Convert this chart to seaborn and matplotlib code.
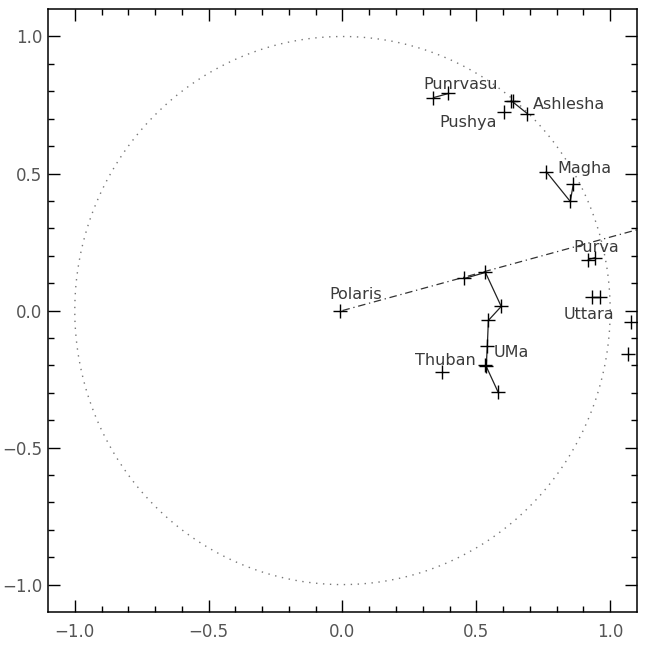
import numpy as np
import pandas as pd
import matplotlib
matplotlib.use("Agg")
import matplotlib.pyplot as plt
import seaborn as sns

# star positions (projected)
polaris_x = [-0.01]
polaris_y = [0.0]
uma_x = [0.455, 0.534, 0.593, 0.545, 0.541, 0.537, 0.582]
uma_y = [0.117, 0.139, 0.015, -0.036, -0.131, -0.204, -0.299]
uma_extra_x = [0.533]
uma_extra_y = [-0.200]
thuban_x = [0.373]
thuban_y = [-0.226]
punarvasu_x = [0.340, 0.396]
punarvasu_y = [0.777, 0.792]
pushya_x = [0.604]
pushya_y = [0.723]
ashlesha_x = [0.630, 0.638, 0.690]
ashlesha_y = [0.766, 0.763, 0.719]
magha_x = [0.761, 0.851, 0.862]
magha_y = [0.507, 0.398, 0.460]
purva_x = [0.918, 0.944]
purva_y = [0.186, 0.193]
uttara_x = [0.933, 0.963]
uttara_y = [0.051, 0.051]
edge_x = [1.078, 1.067]
edge_y = [-0.040, -0.157]

# pole direction line
pole_angle = 15.0   # degrees
pole_len = 1.3

labels = ["Polaris", "Punrvasu", "Pushya", "Ashlesha", "Magha",
          "Purva", "Uttara", "Thuban", "UMa"]
label_x = [-0.049, 0.302, 0.362, 0.713, 0.802, 0.862, 0.825, 0.272, 0.563]
label_y = [0.058, 0.825, 0.686, 0.752, 0.518, 0.230, -0.015, -0.182, -0.153]

sns.set_style("ticks")
plt.rcParams["font.family"] = ["DejaVu Sans"]

fig = plt.figure(figsize=(6.46, 6.49), dpi=100)
ax = fig.add_axes([0.0743, 0.057, 0.9117, 0.929])

# unit circle
t = np.linspace(0, 2 * np.pi, 400)
ax.plot(np.cos(t), np.sin(t), color="#777777", lw=1.0, linestyle=(0, (1, 4)))

# pole line
a = np.deg2rad(pole_angle)
ax.plot([0, pole_len * np.cos(a)], [0, pole_len * np.sin(a)], color="#333333",
        lw=0.9, linestyle=(0, (6, 3, 1, 3)))

# connecting lines
for xs, ys in [(uma_x, uma_y), (punarvasu_x, punarvasu_y),
               ([ashlesha_x[0], ashlesha_x[2]], [ashlesha_y[0], ashlesha_y[2]]),
               (magha_x, magha_y),
               (purva_x, purva_y), (uttara_x, uttara_y)]:
    sns.lineplot(x=xs, y=ys, sort=False, estimator=None, color="#222222", lw=0.9, ax=ax)

stars = pd.DataFrame({
    "x": polaris_x + uma_x + uma_extra_x + thuban_x + punarvasu_x + pushya_x
         + ashlesha_x + magha_x + purva_x + uttara_x + edge_x,
    "y": polaris_y + uma_y + uma_extra_y + thuban_y + punarvasu_y + pushya_y
         + ashlesha_y + magha_y + purva_y + uttara_y + edge_y,
})
sns.scatterplot(data=stars, x="x", y="y", marker="+", s=105, color="black",
                linewidth=1.0, ax=ax, zorder=5)

for lab, lx, ly in zip(labels, label_x, label_y):
    ax.text(lx, ly, lab, ha="left", va="center", fontsize=11.5, color="#3a3a3a")

ax.set_xlim(-1.1, 1.1)
ax.set_ylim(-1.1, 1.1)
ax.set_xlabel("")
ax.set_ylabel("")
ax.set_xticks([-1.0, -0.5, 0.0, 0.5, 1.0])
ax.set_yticks([-1.0, -0.5, 0.0, 0.5, 1.0])
ax.set_xticks(np.arange(-10, 11) / 10, minor=True)
ax.set_yticks(np.arange(-10, 11) / 10, minor=True)
ax.set_xticklabels(["\u22121.0", "\u22120.5", "0.0", "0.5", "1.0"])
ax.set_yticklabels(["\u22121.0", "\u22120.5", "0.0", "0.5", "1.0"])
ax.tick_params(which="both", direction="in", top=True, right=True,
               color="black", width=1.0, labelsize=12, labelcolor="#555555")
ax.tick_params(which="major", length=8.6)
ax.tick_params(which="minor", length=4.3)
ax.tick_params(axis="x", pad=8)
ax.tick_params(axis="y", pad=4)
for sp in ax.spines.values():
    sp.set_visible(True)
    sp.set_linewidth(1.1)
    sp.set_color("black")

fig.savefig("out.png", dpi=100)
